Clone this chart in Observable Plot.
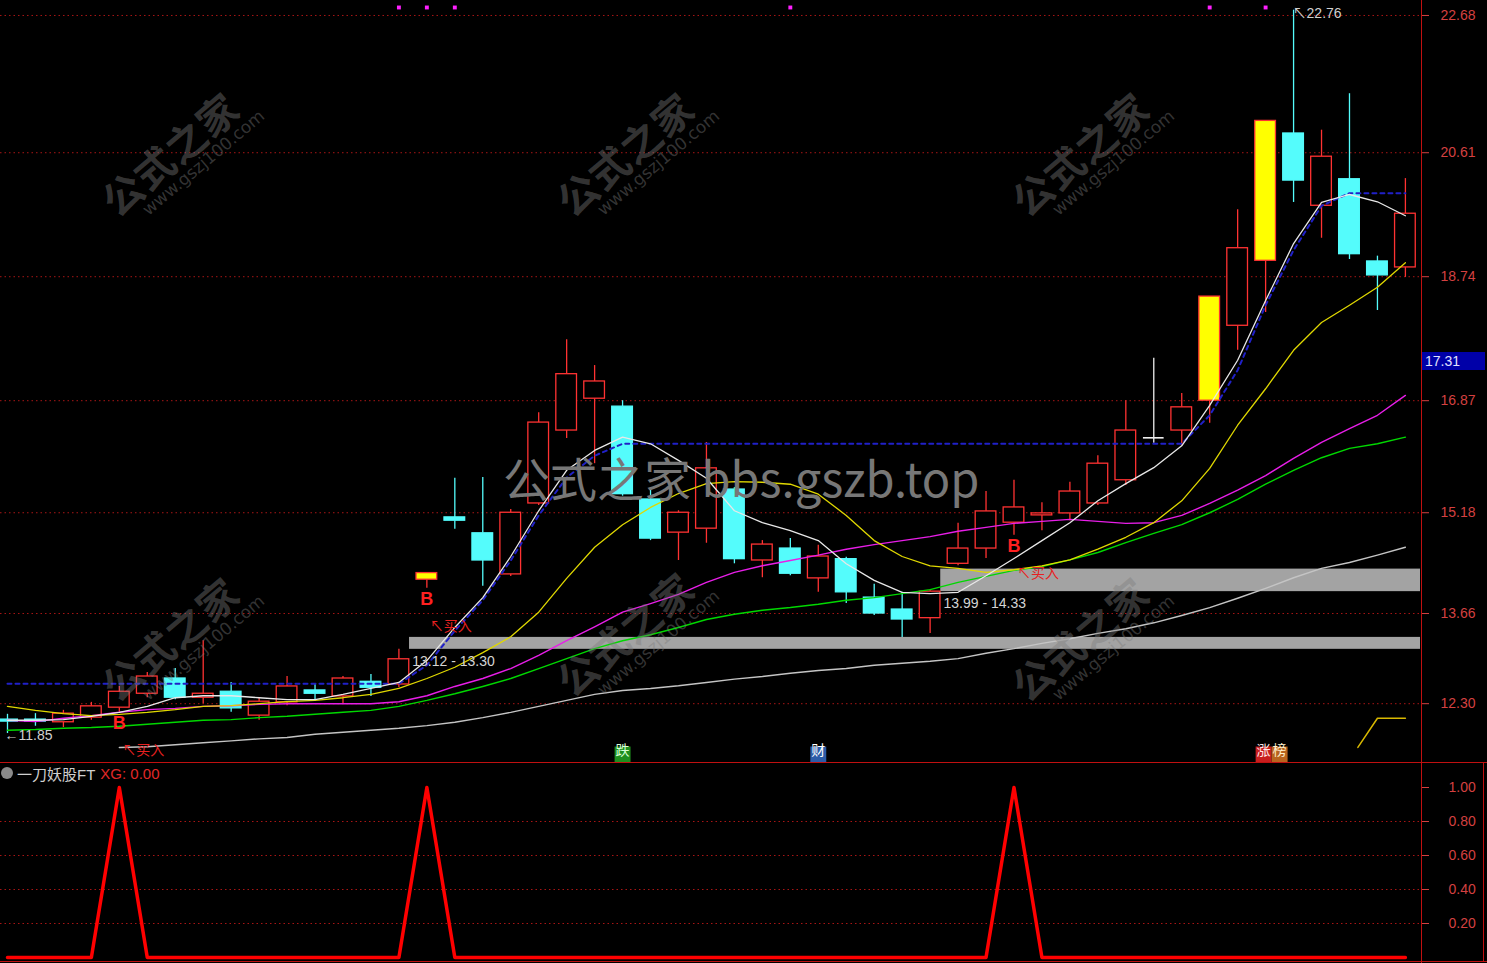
<!DOCTYPE html>
<html><head><meta charset="utf-8">
<script src="https://cdn.jsdelivr.net/npm/d3@7"></script>
<script src="https://cdn.jsdelivr.net/npm/@observablehq/plot@0.6"></script>
<style>
html,body{margin:0;padding:0;background:#000;width:1487px;height:963px;overflow:hidden}
#wrap{position:relative;width:1487px;height:963px;background:#000;font-family:"Liberation Sans",Arial,sans-serif}
#wrap svg{position:absolute;left:0}
.wm{position:absolute;width:280px;text-align:center;transform:rotate(-40deg);color:rgba(125,125,125,0.42);pointer-events:none;line-height:1.05;white-space:nowrap}
.wm .cn{font-family:"Noto Sans CJK SC",sans-serif;font-size:40px;font-weight:700;letter-spacing:1px}
.wm .en{font-family:"DejaVu Sans",sans-serif;font-size:17px;margin-left:40px}
.big{position:absolute;left:503px;top:447px;font-family:"Noto Sans CJK SC","Noto Sans",sans-serif;font-size:47px;color:#777;white-space:nowrap;line-height:60px;pointer-events:none}
.hl{position:absolute;background:#c01010}
</style></head>
<body><div id="wrap"></div>
<script>
// ---------- data ----------
const opens  = [12.06,12.06,12.02,12.09,12.24,12.45,12.68,12.39,12.48,12.12,12.32,12.50,12.41,12.63,12.59,14.17,15.11,14.87,14.25,15.32,16.42,16.90,16.78,15.38,14.88,14.94,15.53,14.46,14.64,14.19,14.48,13.90,13.72,13.59,14.41,14.64,15.03,15.14,15.17,15.32,15.67,16.31,16.42,16.87,18.00,18.98,20.90,19.81,20.21,18.97,18.88];
const highs  = [12.14,12.15,12.20,12.32,12.56,12.77,12.83,13.25,12.62,12.39,12.71,12.60,12.71,12.74,13.12,14.27,15.70,15.71,15.23,16.69,17.79,17.40,16.87,15.56,15.21,16.24,15.56,14.76,14.79,14.69,14.51,14.10,13.98,14.02,15.02,15.50,15.67,15.33,15.64,16.04,16.87,17.51,16.98,18.44,19.75,21.09,22.76,20.95,21.50,19.05,20.22];
const lows   = [11.85,11.96,11.94,12.05,12.17,12.39,12.36,12.30,12.17,12.05,12.27,12.35,12.30,12.41,12.54,14.04,14.93,14.07,14.22,15.29,16.30,15.92,15.43,14.76,14.46,14.72,14.41,14.20,14.23,13.98,13.81,13.63,13.30,13.36,14.38,14.49,14.84,14.91,15.06,15.29,15.59,16.23,16.19,16.53,17.63,18.20,19.86,19.32,19.00,18.23,18.73];
const closes = [12.03,12.03,12.15,12.26,12.48,12.71,12.39,12.45,12.23,12.33,12.56,12.45,12.68,12.54,12.97,14.27,15.06,14.46,15.18,16.54,17.27,17.16,15.46,14.79,15.18,15.85,14.48,14.70,14.26,14.52,13.98,13.66,13.57,13.99,14.64,15.20,15.26,15.17,15.50,15.92,16.42,16.31,16.77,18.44,19.17,21.09,20.19,20.55,19.08,18.76,19.69];
const limitUpDays = [15, 43, 45];

const ma5  = [12.05,12.05,12.06,12.11,12.17,12.26,12.39,12.42,12.42,12.39,12.36,12.36,12.44,12.53,12.62,12.95,13.45,13.90,14.52,15.21,15.82,16.12,16.32,16.22,15.97,15.70,15.21,15.03,14.91,14.76,14.41,14.16,13.98,13.96,13.98,14.23,14.49,14.76,15.03,15.36,15.62,15.86,16.19,16.80,17.48,18.38,19.24,19.86,19.98,19.87,19.66];
const ma10 = [12.26,12.20,12.15,12.12,12.14,12.17,12.21,12.26,12.27,12.30,12.33,12.35,12.39,12.44,12.53,12.68,12.85,13.07,13.31,13.68,14.19,14.66,15.00,15.26,15.47,15.62,15.65,15.64,15.61,15.46,15.14,14.76,14.52,14.38,14.34,14.28,14.32,14.38,14.47,14.63,14.81,15.03,15.36,15.85,16.50,17.05,17.63,18.05,18.31,18.58,18.95];
const ma20 = [12.05,12.03,12.08,12.12,12.17,12.21,12.23,12.26,12.27,12.29,12.30,12.30,12.30,12.30,12.33,12.42,12.56,12.68,12.83,13.03,13.25,13.46,13.68,13.81,13.95,14.13,14.28,14.38,14.46,14.54,14.63,14.70,14.76,14.82,14.90,14.96,15.02,15.05,15.08,15.05,15.02,15.03,15.14,15.32,15.52,15.74,16.00,16.24,16.45,16.65,16.95];
const ma30 = [11.90,11.91,11.93,11.94,11.96,11.99,12.02,12.05,12.06,12.09,12.11,12.14,12.17,12.20,12.26,12.35,12.45,12.56,12.68,12.83,12.98,13.13,13.25,13.34,13.45,13.57,13.65,13.71,13.75,13.80,13.86,13.90,13.96,14.02,14.13,14.22,14.31,14.37,14.47,14.58,14.73,14.87,15.00,15.18,15.38,15.61,15.82,16.01,16.15,16.22,16.32];
const ma60 = [null,null,null,null,11.64,11.65,11.68,11.71,11.74,11.77,11.79,11.84,11.87,11.90,11.93,11.97,12.02,12.09,12.17,12.26,12.35,12.44,12.50,12.53,12.57,12.62,12.67,12.71,12.76,12.80,12.83,12.88,12.91,12.94,12.98,13.06,13.13,13.21,13.28,13.36,13.43,13.52,13.63,13.75,13.89,14.04,14.20,14.34,14.43,14.54,14.66];
const resistance = [12.60,12.60,12.60,12.60,12.60,12.60,12.60,12.60,12.60,12.60,12.60,12.60,12.60,12.60,12.60,12.88,13.40,13.86,14.46,15.14,15.71,16.04,16.22,16.22,16.22,16.22,16.22,16.22,16.22,16.22,16.22,16.22,16.22,16.22,16.22,16.22,16.22,16.22,16.22,16.22,16.22,16.22,16.22,16.65,17.33,18.31,19.14,19.81,20.00,20.00,20.00];
const tailX = [48.3, 49, 50];
const tailV = [11.64, 12.08, 12.08];

const priceTicks = [12.30, 13.66, 15.18, 16.87, 18.74, 20.61, 22.68];
const xgTicks = [0.20, 0.40, 0.60, 0.80, 1.00];
const xgGrid = [0.20, 0.40, 0.60, 0.80];
const xg = [0,0,0,0,1,0,0,0,0,0,0,0,0,0,0,1,0,0,0,0,0,0,0,0,0,0,0,0,0,0,0,0,0,0,0,0,1,0,0,0,0,0,0,0,0,0,0,0,0,0,0];

const buyDays = [4, 15, 36];
const zoneStart = [14, 33];
const zoneLo = [13.12, 13.99];
const zoneHi = [13.30, 14.33];
const tagDays = [22, 29, 45];
const tagTexts = ["跌", "财", "涨榜"];
const topDots = [14, 15, 16, 28, 43, 45];
const highDay = 46, highVal = 22.76;
const lowDay = 0, lowVal = 11.85;
const cursorPrice = 17.31;
const subTitle = "一刀妖股FT";

// ---------- styles ----------
const RED = "#ff3232", CYAN = "#54fcfc", YEL = "#ffff00", WHITE = "#eeeeee";
const GRID = "#a81515", AXIS = "#d44040";
const tagStyle = {"跌": ["#1e8e1e", "#d8ffd8"], "财": ["#2c5ca8", "#ffffff"], "涨": ["#c81e1e", "#ffe6e6"], "榜": ["#b8641e", "#fff0d0"]};
const xMax = 50.54, half = 0.37;
const font = "Liberation Sans, Noto Sans CJK SC, sans-serif";

// ---------- derived tables ----------
const candles = closes.map((c, i) => {
  const o = opens[i];
  const kind = limitUpDays.includes(i) ? "limit" : c > o ? "up" : c < o ? "down" : "flat";
  return {i, o, c, h: highs[i], l: lows[i], kind, top: Math.max(o, c), bot: Math.min(o, c)};
});
const lineCol = k => k === "down" ? CYAN : k === "flat" ? WHITE : RED;
const bodyFill = k => k === "down" ? CYAN : k === "limit" ? YEL : "#000";
const series = arr => arr.map((v, i) => ({i, v}));
const zones = zoneStart.map((s, j) => ({s, lo: zoneLo[j], hi: zoneHi[j]}));
const buys = buyDays.map(i => ({i, l: lows[i]}));
const chars = [];
tagDays.forEach((d, j) => [...tagTexts[j]].forEach((ch, k) => chars.push({i: d, ch, k, n: tagTexts[j].length})));
const single = chars.filter(d => d.n === 1), firstC = chars.filter(d => d.n === 2 && d.k === 0), secondC = chars.filter(d => d.n === 2 && d.k === 1);

const tagMarks = (data, dx) => [
  Plot.dot(data, {x: "i", frameAnchor: "bottom", dy: -9, dx, symbol: "square", r: 9, fill: d => tagStyle[d.ch][0]}),
  Plot.text(data, {x: "i", frameAnchor: "bottom", dy: -9, dx, text: "ch", fill: d => tagStyle[d.ch][1], fontSize: 14, fontFamily: "Noto Sans CJK SC"})
];

const main = Plot.plot({
  width: 1487, height: 763, marginLeft: 0, marginRight: 67, marginTop: 0, marginBottom: 0,
  x: {type: "linear", domain: [-0.25, xMax], axis: null},
  y: {domain: [11.398, 22.906], axis: null},
  color: {type: "identity"},
  style: {background: "#000", color: "#ccc", fontFamily: font, fontSize: "14px", overflow: "visible"},
  marks: [
    Plot.gridY(priceTicks, {stroke: GRID, strokeOpacity: 1, strokeDasharray: "1.5,3"}),
    Plot.rect(zones, {x1: d => d.s + half + 0.01, x2: xMax, y1: "lo", y2: "hi", fill: "#a3a3a3"}),
    Plot.ruleX(candles, {x: "i", y1: "h", y2: "top", stroke: d => lineCol(d.kind), strokeWidth: 1.3}),
    Plot.ruleX(candles, {x: "i", y1: "bot", y2: "l", stroke: d => lineCol(d.kind), strokeWidth: 1.3}),
    Plot.rect(candles.filter(d => d.kind !== "flat"), {x1: d => d.i - half, x2: d => d.i + half, y1: "bot", y2: "top", fill: d => bodyFill(d.kind), stroke: d => lineCol(d.kind), strokeWidth: 1.3}),
    Plot.ruleY(candles.filter(d => d.kind === "flat"), {y: "c", x1: d => d.i - half, x2: d => d.i + half, stroke: WHITE, strokeWidth: 1.6}),
    Plot.line(series(ma60), {x: "i", y: "v", stroke: "#c4c4c4", strokeWidth: 1.4}),
    Plot.line(series(ma30), {x: "i", y: "v", stroke: "#00d800", strokeWidth: 1.4}),
    Plot.line(series(ma20), {x: "i", y: "v", stroke: "#e81ee8", strokeWidth: 1.4}),
    Plot.line(series(ma10), {x: "i", y: "v", stroke: "#e0d800", strokeWidth: 1.3}),
    Plot.line(series(resistance), {x: "i", y: "v", stroke: "#2020c8", strokeWidth: 2, strokeDasharray: "4,4"}),
    Plot.line(series(ma5), {x: "i", y: "v", stroke: "#e8e8e8", strokeWidth: 1.3}),
    Plot.line(tailX.map((x, j) => ({x, v: tailV[j]})), {x: "x", y: "v", stroke: "#d8b800", strokeWidth: 1.5}),
    Plot.text(zones, {x: d => d.s + half, y: "lo", text: d => `${d.lo.toFixed(2)} - ${d.hi.toFixed(2)}`, dy: 12, dx: 3, textAnchor: "start", fill: "#d4d4d4", fontSize: 14}),
    Plot.text(buys, {x: "i", y: "l", text: () => "B", dy: 11, fill: "#ff2020", fontSize: 18, fontWeight: "bold"}),
    Plot.text(buys, {x: "i", y: "l", text: () => "↖买入", dy: 38, dx: 3, textAnchor: "start", fill: "#e82020", fontSize: 14}),
    Plot.text([{i: highDay, v: highVal}], {x: "i", y: "v", text: d => "↖" + d.v.toFixed(2), textAnchor: "start", dx: -1, dy: 3, fill: "#d0d0d0", fontSize: 14}),
    Plot.text([{i: lowDay, v: lowVal}], {x: "i", y: "v", text: d => "←" + d.v.toFixed(2), textAnchor: "start", dx: -3, dy: 2, fill: "#d0d0d0", fontSize: 14}),
    ...tagMarks(single, 0), ...tagMarks(firstC, -2), ...tagMarks(secondC, 14),
    Plot.dot(topDots, {x: d => d, frameAnchor: "top", dy: 7, symbol: "square", r: 2.2, fill: "#ff20ff"}),
    Plot.axisY(priceTicks, {anchor: "right", tickSize: 8, tickPadding: 12, tickFormat: d => d.toFixed(2), color: AXIS, fontSize: 14, label: null})
  ]
});
main.style.top = "0px";

const sub = Plot.plot({
  width: 1487, height: 200, marginLeft: 0, marginRight: 67, marginTop: 0, marginBottom: 0,
  x: {type: "linear", domain: [-0.25, xMax], axis: null},
  y: {domain: [-0.0353, 1.1412], axis: null},
  style: {background: "#000", color: "#ccc", fontFamily: font, fontSize: "14px", overflow: "visible"},
  marks: [
    Plot.gridY(xgGrid, {stroke: GRID, strokeOpacity: 1, strokeDasharray: "1.5,3"}),
    Plot.line(series(xg), {x: "i", y: "v", stroke: "#ff0000", strokeWidth: 3.5}),
    Plot.axisY(xgTicks, {anchor: "right", tickSize: 8, tickPadding: 20, tickFormat: d => d.toFixed(2), color: AXIS, fontSize: 14, label: null})
  ]
});
sub.style.top = "763px";

const wrap = document.getElementById("wrap");
wrap.append(main, sub);

// frame lines
const hl = (l, t, w, h) => { const d = document.createElement("div"); d.className = "hl"; Object.assign(d.style, {left: l + "px", top: t + "px", width: w + "px", height: h + "px"}); wrap.append(d); };
hl(0, 762, 1487, 1); hl(0, 961, 1487, 1); hl(1421, 0, 1, 963); hl(1483, 763, 1, 199);

// cursor price box
const yS = main.scale("y");
const box = document.createElement("div");
Object.assign(box.style, {position: "absolute", left: "1422px", top: (yS.apply(cursorPrice) - 19) + "px", width: "63px", height: "18px", background: "#0000a8", color: "#e0e0ff", fontSize: "14px", lineHeight: "18px", paddingLeft: "3px", boxSizing: "border-box", fontFamily: font});
box.textContent = cursorPrice.toFixed(2);
wrap.append(box);

// sub panel title
const lab = document.createElement("div");
Object.assign(lab.style, {position: "absolute", left: "0px", top: "764px", height: "18px", display: "flex", alignItems: "center", fontSize: "15px", fontFamily: font, whiteSpace: "nowrap"});
lab.innerHTML = `<span style="display:inline-block;width:12px;height:12px;border-radius:6px;background:#8a8a8a;margin-left:1px"></span><span style="color:#cfcfcf;margin-left:4px">${subTitle}</span><span style="color:#e02828;margin-left:5px">XG: ${xg[xg.length - 1].toFixed(2)}</span>`;
wrap.append(lab);

// watermarks
const big = document.createElement("div");
big.className = "big"; big.textContent = "公式之家 bbs.gszb.top";
wrap.append(big);
[[175,165],[630,165],[1085,165],[175,650],[630,645],[1085,650]].forEach(([cx, cy]) => {
  const w = document.createElement("div");
  w.className = "wm";
  w.style.left = (cx - 140) + "px"; w.style.top = (cy - 35) + "px";
  w.innerHTML = `<div class="cn">公式之家</div><div class="en">www.gszj100.com</div>`;
  wrap.append(w);
});
</script></body></html>
